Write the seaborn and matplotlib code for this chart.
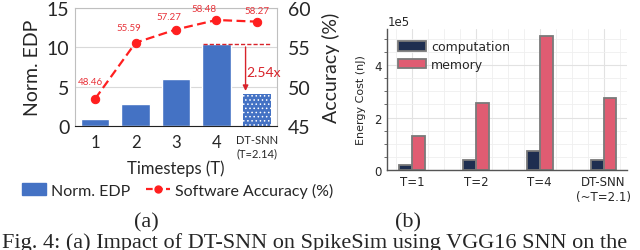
import numpy as np
import pandas as pd
import seaborn as sns
import matplotlib.pyplot as plt
from matplotlib.ticker import MultipleLocator
from matplotlib.patches import Patch
from matplotlib.lines import Line2D

# (a) SpikeSim: normalized EDP and software accuracy
steps = ["1", "2", "3", "4", "DT-SNN\n(T=2.14)"]
norm_edp = [0.9, 2.8, 6.0, 10.4, 4.1]
accuracy = [48.46, 55.59, 57.27, 58.48, 58.27]

# (b) energy breakdown
groups = ["T=1", "T=2", "T=4", "DT-SNN\n(~T=2.1)"]
computation = [0.19e5, 0.38e5, 0.72e5, 0.38e5]
memory = [1.29e5, 2.56e5, 5.12e5, 2.74e5]

sns.set_style("white")
plt.rcParams["font.family"] = ["Lato", "DejaVu Sans"]
plt.rcParams["hatch.linewidth"] = 0.6

fig = plt.figure(figsize=(6.4, 2.51), dpi=100)

# ---------------- panel (a) ----------------
ax = fig.add_axes([0.117, 0.494, 0.316, 0.47])
blue = "#4472C4"
sns.barplot(x=steps, y=norm_edp, color=blue, width=0.7, saturation=1, ax=ax)
bars = ax.patches
bars[-1].set_hatch("....")
bars[-1].set_edgecolor("white")
bars[-1].set_linewidth(0)

ax.set_ylim(0, 15)
ax.set_xlim(-0.5, len(steps) - 0.5)
ax.set_yticks([0, 5, 10, 15])
ax.yaxis.grid(True, color="#d9d9d9", lw=0.8)
ax.set_axisbelow(True)
ax.tick_params(axis="y", labelsize=14, length=0, pad=4)
ax.tick_params(axis="x", which="major", labelsize=12, length=0, pad=6)
ax.set_xticks(np.arange(-0.5, len(steps)), minor=True)
ax.tick_params(axis="x", which="minor", length=5, width=0.8, color="#444444")
ax.get_xticklabels()[-1].set_fontsize(8)
ax.set_ylabel("Norm. EDP", fontsize=14, labelpad=4)
ax.set_xlabel("Timesteps (T)", fontsize=12, labelpad=1)
for s in ["left", "top", "right"]:
    ax.spines[s].set_color("#bfbfbf")
    ax.spines[s].set_linewidth(0.8)
ax.spines["bottom"].set_color("#222222")

ax2 = ax.twinx()
red = "#FF1F1F"
sns.lineplot(x=np.arange(len(steps)), y=accuracy, ax=ax2, color=red, lw=1.6,
             linestyle=(0, (4, 2)), marker="o", markersize=6, markeredgecolor=red)
ax2.set_ylim(45, 60)
ax2.set_yticks([45, 50, 55, 60])
ax2.tick_params(axis="y", labelsize=14, length=0, pad=8)
ax2.set_ylabel("Accuracy (%)", fontsize=14, labelpad=8)
for s in ["left", "top", "right", "bottom"]:
    ax2.spines[s].set_visible(False)
offsets = [(-5, 13), (-7, 11), (-7, 9), (-12, 7), (0, 7)]
for i, (v, off) in enumerate(zip(accuracy, offsets)):
    ax2.annotate(f"{v:.2f}", (i, v), textcoords="offset pixels", xytext=off,
                 ha="center", va="bottom", fontsize=7, color="#E8333A")

# reduction annotation
ax.plot([2.67, 4.33], [norm_edp[3], norm_edp[3]], color="#D8232A", lw=1, ls=(0, (3, 1.5)))
ax.annotate("", xy=(3.72, norm_edp[4]), xytext=(3.72, norm_edp[3]),
            arrowprops=dict(arrowstyle="-|>", color="#D8232A", lw=1, mutation_scale=8))
ax.text(3.75, 6.9, f"{norm_edp[3] / norm_edp[4]:.2f}x", color="#D8232A", fontsize=10, va="center")

handles = [Patch(color=blue, label="Norm. EDP"),
           Line2D([], [], color=red, lw=1.6, ls=(0, (3, 1.5)), marker="o", markersize=5,
                  label="Software Accuracy (%)")]
fig.legend(handles=handles, loc="center", bbox_to_anchor=(0.277, 0.238), ncol=2,
           frameon=False, fontsize=11.5, handlelength=1.5, handleheight=0.8,
           handletextpad=0.3, columnspacing=1.0)

# ---------------- panel (b) ----------------
dv = "DejaVu Sans"
bx = fig.add_axes([0.605, 0.319, 0.375, 0.561])
df = pd.DataFrame({
    "group": groups * 2,
    "kind": ["computation"] * len(groups) + ["memory"] * len(groups),
    "energy": computation + memory,
})
sns.barplot(data=df, x="group", y="energy", hue="kind", width=0.4, gap=0,
            palette={"computation": "#1E2E50", "memory": "#E05C72"}, saturation=1,
            edgecolor="#7a7a7a", linewidth=1.3, ax=bx)
bx.ticklabel_format(axis="y", style="sci", scilimits=(5, 5))
bx.yaxis.get_offset_text().set_fontsize(8.5)
bx.yaxis.get_offset_text().set_family(dv)
bx.set_yticks([0, 2e5, 4e5])
bx.yaxis.set_minor_locator(MultipleLocator(0.5e5))
bx.xaxis.set_minor_locator(MultipleLocator(0.25))
bx.grid(which="major", color="#e2e2e2", lw=0.8)
bx.grid(which="minor", color="#efefef", lw=0.6)
bx.set_axisbelow(True)
bx.set_xlim(-0.39, 3.37)
bx.tick_params(axis="both", which="major", labelsize=8.5, length=3, width=0.8, color="#555555", pad=1)
bx.tick_params(axis="y", which="minor", length=2, width=0.6, color="#555555", left=True)
bx.tick_params(axis="x", which="minor", length=0)
for lab in bx.get_xticklabels() + bx.get_yticklabels():
    lab.set_family(dv)
bx.set_xlabel("")
bx.set_ylabel("Energy Cost (nJ)", fontsize=8, labelpad=6, family=dv)
for s in ["top", "right"]:
    bx.spines[s].set_visible(False)
for s in ["left", "bottom"]:
    bx.spines[s].set_color("#555555")
    bx.spines[s].set_linewidth(1)
bx.legend(loc="upper left", bbox_to_anchor=(0.0, 1.0), frameon=False,
          prop={"family": dv, "size": 9},
          handlelength=2.2, handleheight=0.8, handletextpad=0.4, labelspacing=0.35,
          borderaxespad=0.5)

# ---------------- captions ----------------
serif = ["Liberation Serif", "DejaVu Serif"]
fig.text(0.228, 0.112, "(a)", ha="center", va="center", fontsize=16, family=serif)
fig.text(0.638, 0.112, "(b)", ha="center", va="center", fontsize=16, family=serif)
fig.text(0.003, 0.012, "Fig. 4: (a) Impact of DT-SNN on SpikeSim using VGG16 SNN on the",
         ha="left", va="baseline", fontsize=16, family=serif)

fig.savefig("out.png", dpi=100)
